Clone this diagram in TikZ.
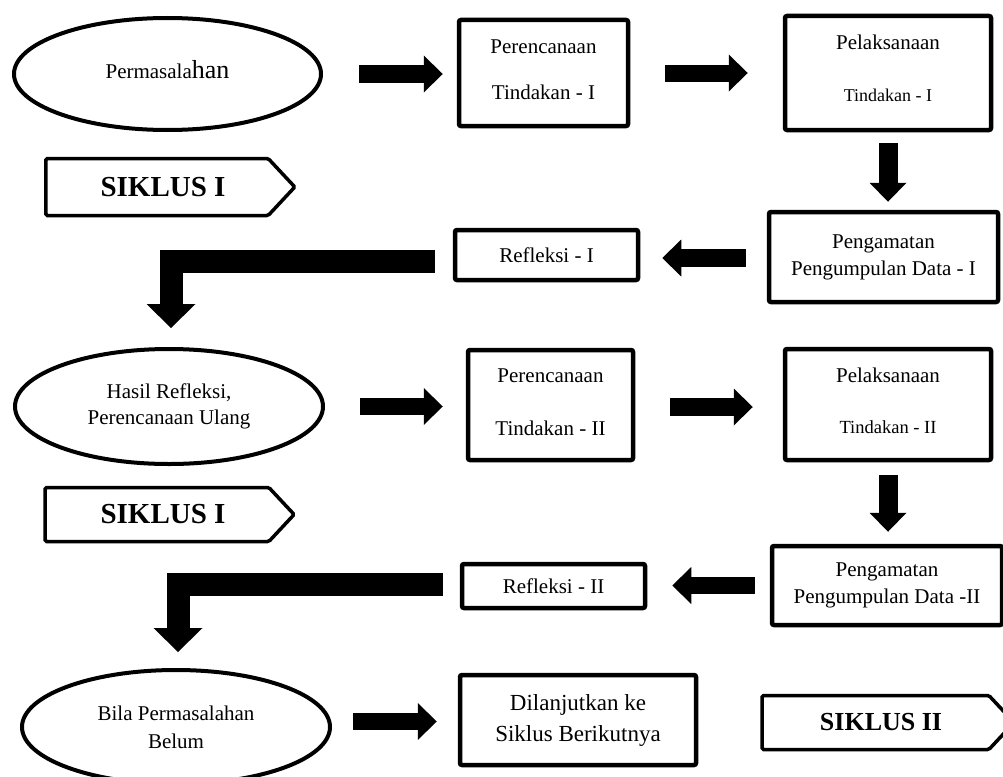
\documentclass[tikz,border=0pt]{standalone}
\usepackage{fontspec}
\setmainfont{Liberation Serif}
\usetikzlibrary{arrows.meta,shapes.geometric,shapes.symbols}
\tikzset{
  box/.style={draw, rectangle, rounded corners=2pt, line width=4.5pt, inner sep=0pt, align=center, font=\fontsize{21}{25}\selectfont},
  oval/.style={draw, ellipse, line width=4pt, inner sep=0pt, align=center, font=\fontsize{21}{26}\selectfont},
  siklus/.style={draw, shape=signal, signal to=east, signal pointer angle=94, line width=3.5pt, inner sep=0pt, rounded corners=1.5pt, font=\fontsize{29}{34}\selectfont\bfseries},
  fatarrow/.style={line width=18pt, -{Triangle[length=19pt,width=37pt,line width=0pt]}},
  bentarrow/.style={line width=23pt, -{Triangle[length=24pt,width=49pt,line width=0pt]}}
}
\begin{document}
\begin{tikzpicture}[x=1pt,y=-1pt]
\useasboundingbox (0,0) rectangle (1003,776);
% row 1
\node[oval, minimum width=307, minimum height=112, text depth=10pt] (e1) at (167.5,74) {Permasala{\fontsize{26}{30}\selectfont han}};
\node[box, minimum width=169, minimum height=106, text depth=7pt] (b1) at (543.5,73) {Perencanaan\\[21pt]Tindakan - I};
\node[box, minimum width=206, minimum height=114, text depth=10pt] (b2) at (888,73) {Pelaksanaan\\[27pt]{\fontsize{18}{22}\selectfont Tindakan - I}};
\node[siklus, minimum width=249, minimum height=57] (s1) at (157,187) {\hspace{12pt}SIKLUS I};
% row 2
\node[box, minimum width=229, minimum height=90, font=\fontsize{21}{27}\selectfont] (p1) at (883.5,257) {Pengamatan\\Pengumpulan Data - I};
\node[box, minimum width=183, minimum height=50] (r1) at (546.5,255) {Refleksi - I};
% row 3
\node[oval, minimum width=308, minimum height=115] (e2) at (169,406.5) {Hasil Refleksi,\\Perencanaan Ulang};
\node[box, minimum width=165, minimum height=110, text depth=5pt] (b3) at (550.5,405) {Perencanaan\\[28pt]Tindakan - II};
\node[box, minimum width=206, minimum height=111, text depth=8pt] (b4) at (888,404.5) {Pelaksanaan\\[26pt]{\fontsize{18.5}{22}\selectfont Tindakan - II}};
\node[siklus, minimum width=249, minimum height=54] (s2) at (157,514.5) {\hspace{12pt}SIKLUS I};
% row 4
\node[box, minimum width=230, minimum height=79, font=\fontsize{21}{27}\selectfont] (p2) at (887,585.5) {Pengamatan\\Pengumpulan Data -II};
\node[box, minimum width=183, minimum height=44] (r2) at (553.5,586) {Refleksi - II};
% row 5
\node[oval, minimum width=308, minimum height=114, font=\fontsize{21}{28}\selectfont] (e3) at (176,727) {Bila Permasalahan\\Belum};
\node[box, minimum width=236, minimum height=90, font=\fontsize{23}{31}\selectfont] (b5) at (578,720) {Dilanjutkan ke\\Siklus Berikutnya};
\node[siklus, minimum width=252, minimum height=54, font=\fontsize{26}{31}\selectfont\bfseries] (s3) at (875.5,722.5) {\hspace{11pt}SIKLUS II};
% arrows
\draw[fatarrow, shorten <=36pt, shorten >=14pt] (e1.east) -- (e1.east -| b1.west);
\draw[fatarrow, line width=17pt, shorten <=35pt, shorten >=35pt] (b1.east) -- (b1.east -| b2.west);
\draw[fatarrow, line width=19pt, shorten <=11pt, shorten >=8pt] (b2.south) -- (b2.south |- p1.north);
\draw[fatarrow, shorten <=21pt, shorten >=22pt] ([yshift=-1pt]p1.west) -- ([yshift=-1pt]p1.west -| r1.east);
\draw[bentarrow, shorten <=18pt, shorten >=19pt] ([yshift=-6pt]r1.west) -| ([xshift=2pt]e2.north);
\draw[fatarrow, line width=17pt, shorten <=35pt, shorten >=23pt] (e2.east) -- (e2.east -| b3.west);
\draw[fatarrow, shorten <=35pt, shorten >=30pt] ([yshift=-2pt]b3.east) -- ([yshift=-2pt]b3.east -| b4.west);
\draw[fatarrow, line width=19pt, shorten <=13pt, shorten >=12pt] (b4.south) -- (b4.south |- p2.north);
\draw[fatarrow, line width=17pt, shorten <=15pt, shorten >=25pt] (p2.west) -- (p2.west -| r2.east);
\draw[bentarrow, shorten <=17pt, shorten >=16pt] ([yshift=1.5pt]r2.west) -| ([xshift=2pt]e3.north);
\draw[fatarrow, line width=17pt, shorten <=21pt, shorten >=21pt] ([yshift=5.5pt]e3.east) -- ([yshift=5.5pt]e3.east -| b5.west);
\end{tikzpicture}
\end{document}
